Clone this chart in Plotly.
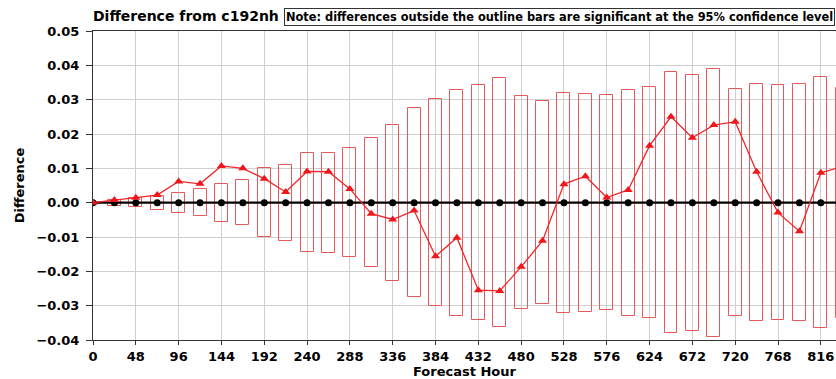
import plotly.graph_objects as go

hours = [0, 24, 48, 72, 96, 120, 144, 168, 192, 216, 240, 264, 288, 312, 336, 360,
         384, 408, 432, 456, 480, 504, 528, 552, 576, 600, 624, 648, 672, 696, 720,
         744, 768, 792, 816, 840]
diff = [0.0, 0.0008, 0.0014, 0.0022, 0.0062, 0.0055, 0.0107, 0.0100, 0.0070, 0.0031,
        0.0091, 0.0090, 0.0040, -0.0032, -0.0049, -0.0023, -0.0156, -0.0102, -0.0255,
        -0.0257, -0.0187, -0.0111, 0.0054, 0.0077, 0.0015, 0.0037, 0.0166, 0.0250,
        0.0189, 0.0226, 0.0236, 0.0090, -0.0029, -0.0083, 0.0087, 0.0105]
ci = [0.0, 0.0009, 0.0014, 0.0020, 0.0029, 0.0039, 0.0055, 0.0065, 0.0100, 0.0111,
      0.0145, 0.0146, 0.0158, 0.0188, 0.0227, 0.0275, 0.0301, 0.0329, 0.0343, 0.0362,
      0.0311, 0.0296, 0.0320, 0.0317, 0.0314, 0.0329, 0.0336, 0.0380, 0.0373, 0.0390,
      0.0330, 0.0346, 0.0343, 0.0346, 0.0365, 0.0335]
zero = [0.0] * len(hours)
xticks = list(range(0, 817, 48))
yticks = [-0.04, -0.03, -0.02, -0.01, 0.0, 0.01, 0.02, 0.03, 0.04, 0.05]

FONT = "DejaVu Sans"

fig = go.Figure()
fig.add_trace(go.Bar(
    x=hours, y=[2 * c for c in ci], base=[-c for c in ci], width=14.5,
    marker=dict(color="rgba(0,0,0,0)", line=dict(color="#e8595b", width=1)),
    showlegend=False, hoverinfo="skip"))
fig.add_trace(go.Scatter(
    x=hours, y=zero, mode="lines+markers",
    line=dict(color="black", width=2.2),
    marker=dict(color="black", size=7, symbol="circle"),
    showlegend=False))
fig.add_trace(go.Scatter(
    x=hours, y=diff, mode="lines+markers",
    line=dict(color="#f0262a", width=1.3),
    marker=dict(color="#f0161b", size=8, symbol="triangle-up"),
    showlegend=False))

fig.update_layout(
    width=836, height=379,
    margin=dict(l=93, r=0, t=31, b=39),
    plot_bgcolor="white", paper_bgcolor="white",
    font=dict(family=FONT, color="black"),
    bargap=0,
    xaxis=dict(range=[0, 833], tickvals=xticks, ticktext=[str(t) for t in xticks],
               showgrid=True, gridcolor="#cfcfcf", gridwidth=1,
               showline=True, linecolor="#333333", linewidth=1, mirror=True,
               ticks="outside", ticklen=4, tickcolor="#333333",
               tickfont=dict(family=FONT, size=13, color="black", weight="bold"),
               title=dict(text="<b>Forecast Hour</b>", font=dict(family=FONT, size=13),
                          standoff=2),
               automargin=False, zeroline=False),
    yaxis=dict(range=[-0.04, 0.05], tickvals=yticks,
               ticktext=["\u22120.04", "\u22120.03", "\u22120.02", "\u22120.01", "0.00",
                         "0.01", "0.02", "0.03", "0.04", "0.05"],
               showgrid=True, gridcolor="#cfcfcf", gridwidth=1,
               showline=True, linecolor="#333333", linewidth=1, mirror=True,
               ticks="outside", ticklen=6, tickcolor="#333333", ticklabelstandoff=4,
               tickfont=dict(family=FONT, size=13, color="black", weight="bold"),
               title=dict(text="<b>Difference</b>", font=dict(family=FONT, size=13),
                          standoff=8),
               automargin=False, zeroline=False),
    annotations=[
        dict(text="<b>Difference from c192nh</b>", xref="paper", yref="paper",
             x=0, y=1, xanchor="left", yanchor="bottom", yshift=5, xshift=-2,
             showarrow=False,
             font=dict(family=FONT, size=14, color="black")),
        dict(text="<b>Note: differences outside the outline bars are significant at the 95% confidence level</b>",
             xref="paper", yref="paper", x=0.257, y=1, xanchor="left", yanchor="bottom",
             yshift=5, showarrow=False, bordercolor="#333333", borderwidth=1, borderpad=1,
             font=dict(family=FONT, size=11.4, color="black")),
    ],
)

fig.write_html(
    "out.html",
    config={"displayModeBar": False},
    post_script="document.body.style.margin='0';document.documentElement.style.overflow='hidden';",
)
